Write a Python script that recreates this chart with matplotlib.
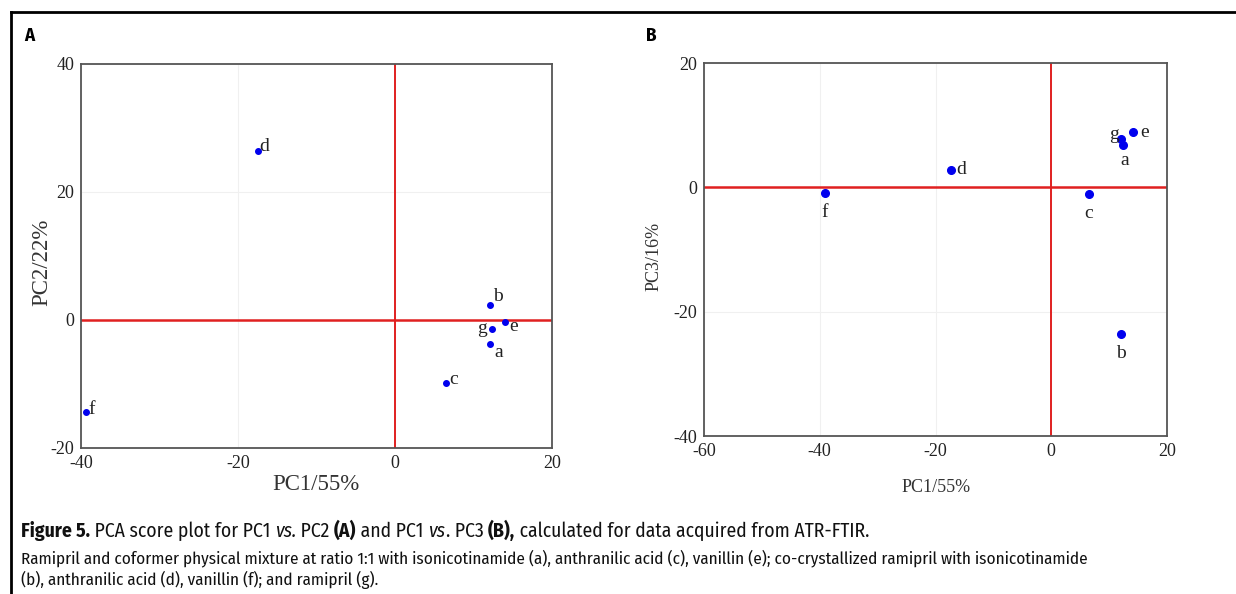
import matplotlib
matplotlib.use("Agg")
import matplotlib.pyplot as plt
from matplotlib.lines import Line2D
from matplotlib import font_manager

plt.rcParams["axes.unicode_minus"] = False

# ---- data ----
labels = ["a", "b", "c", "d", "e", "f", "g"]
pc1 = [12.1, 12.1, 6.5, -17.5, 14.0, -39.4, 12.4]
pc2 = [-3.7, 2.3, -9.8, 26.4, -0.3, -14.4, -1.4]
pc1_b = [12.4, 12.0, 6.5, -17.3, 14.1, -39.1, 12.0]
pc3 = [6.8, -23.6, -1.1, 2.8, 8.9, -0.9, 7.8]

xticks_a = [-40, -20, 0, 20]
yticks_a = [-20, 0, 20, 40]
xticks_b = [-60, -40, -20, 0, 20]
yticks_b = [-40, -20, 0, 20]

W, H = 1236, 594
fig = plt.figure(figsize=(W / 100, H / 100), dpi=100)

entries = {}
for f in font_manager.fontManager.ttflist:
    w = f.weight if isinstance(f.weight, int) else 400
    entries.setdefault(f.name, set()).add((w, f.style))


def usable(name):
    e = entries.get(name, set())
    reg = any(w == 400 and s == "normal" for w, s in e)
    bold = any(w >= 600 and s == "normal" for w, s in e)
    return reg and bold


def pick(cands, fallback):
    for c in cands:
        if usable(c):
            return [c, fallback]
    return [fallback]


SERIF = pick(["Liberation Serif"], "DejaVu Serif")
CAP = pick(["Source Sans Pro", "Fira Sans Condensed", "IBM Plex Sans Condensed",
            "Asap Condensed", "PT Sans Narrow", "Lato"], "DejaVu Sans")


def ax_rect(x0, y0, x1, y1):
    return [x0 / W, 1 - y1 / H, (x1 - x0) / W, (y1 - y0) / H]


def style(ax, xt, yt):
    for s in ax.spines.values():
        s.set_color("#555555")
        s.set_linewidth(1.3)
    ax.set_xticks(xt)
    ax.set_yticks(yt)
    ax.set_xlim(xt[0], xt[-1])
    ax.set_ylim(yt[0], yt[-1])
    ax.tick_params(length=0, pad=5, labelsize=13, labelcolor="#222222")
    for lab in ax.get_xticklabels() + ax.get_yticklabels():
        lab.set_fontfamily(SERIF)
    ax.grid(True, color="#f0f0f0", linewidth=0.8)
    ax.set_axisbelow(True)
    ax.axhline(0, color="#e02020", linewidth=1.8, zorder=2)
    ax.axvline(0, color="#e02020", linewidth=1.4, zorder=2)


def px_to_axes(ax_box, x_px, y_px):
    x0, y0, x1, y1 = ax_box
    return (x_px - x0) / (x1 - x0), (y1 - y_px) / (y1 - y0)


# ---- panel A ----
boxA = (81, 64, 552, 448)
axA = fig.add_axes(ax_rect(*boxA))
style(axA, xticks_a, yticks_a)
axA.plot(pc1, pc2, "o", color="#0000ee", markersize=4, zorder=3)
offA = {"a": (3, -6, "left"), "b": (2, 6, "left"), "c": (2, 2, "left"),
        "d": (1, 3, "left"), "e": (3, -3, "left"), "f": (2, 2, "left"),
        "g": (-4, 0, "right")}
for lb, x, y in zip(labels, pc1, pc2):
    dx, dy, ha = offA[lb]
    axA.annotate(lb, (x, y), xytext=(dx, dy), textcoords="offset points",
                 ha=ha, va="center", fontsize=14, family=SERIF, color="#222222")
axA.set_xlabel("PC1/55%", fontsize=16.5, family=SERIF, color="#333333")
axA.set_ylabel("PC2/22%", fontsize=16.5, family=SERIF, color="#333333")
axA.xaxis.set_label_coords(*px_to_axes(boxA, 316, 485))
axA.yaxis.set_label_coords(*px_to_axes(boxA, 42, 262))
axA.xaxis.label.set_va("center")
axA.yaxis.label.set_va("center")

# ---- panel B ----
boxB = (704, 63, 1167, 436)
axB = fig.add_axes(ax_rect(*boxB))
style(axB, xticks_b, yticks_b)
axB.plot(pc1_b, pc3, "o", color="#0000ee", markersize=5.5, zorder=3)
offB = {"a": (1, -11, "center"), "b": (0, -14, "center"), "c": (0, -14, "center"),
        "d": (4, 0, "left"), "e": (5, 0, "left"), "f": (0, -14, "center"),
        "g": (-1, 3, "right")}
for lb, x, y in zip(labels, pc1_b, pc3):
    dx, dy, ha = offB[lb]
    axB.annotate(lb, (x, y), xytext=(dx, dy), textcoords="offset points",
                 ha=ha, va="center", fontsize=14, family=SERIF, color="#222222")
axB.set_xlabel("PC1/55%", fontsize=13, family=SERIF, color="#333333")
axB.set_ylabel("PC3/16%", fontsize=13, family=SERIF, color="#333333")
axB.xaxis.set_label_coords(*px_to_axes(boxB, 936, 488))
axB.yaxis.set_label_coords(*px_to_axes(boxB, 654, 256))
axB.xaxis.label.set_va("center")
axB.yaxis.label.set_va("center")

# ---- panel letters ----
fig.text(24 / W, 1 - 36 / H, "A", fontsize=13.5, fontweight="bold", family=CAP, va="center")
fig.text(646 / W, 1 - 36 / H, "B", fontsize=13.5, fontweight="bold", family=CAP, va="center")

# ---- frame ----
fig.add_artist(Line2D([11 / W, 11 / W], [0, 1 - 12 / H], color="black", linewidth=2,
                      transform=fig.transFigure))
fig.add_artist(Line2D([11 / W, 1], [1 - 12 / H, 1 - 12 / H], color="black", linewidth=2,
                      transform=fig.transFigure))

# ---- caption ----
renderer = fig.canvas.get_renderer()


def rich(x_px, y_px, pieces, size, target=None, max_size=None):
    texts = []
    x = x_px
    for txt, kw in pieces:
        t = fig.text(x / W, 1 - y_px / H, txt, fontsize=size, family=CAP,
                     va="baseline", color="#111111", **kw)
        x += t.get_window_extent(renderer=renderer).width
        texts.append(t)
    if target is not None:
        new = size * (target - x_px) / (x - x_px)
        if max_size is not None:
            new = min(new, max_size)
        x = x_px
        for t in texts:
            t.set_fontsize(new)
            t.set_x(x / W)
            x += t.get_window_extent(renderer=renderer).width
        return new
    return size


cap = [("Figure 5.", {"fontweight": "bold"}),
       (" PCA score plot for PC1 ", {}),
       ("vs.", {"style": "italic"}),
       (" PC2 ", {}),
       ("(A)", {"fontweight": "bold"}),
       (" and PC1 ", {}),
       ("vs", {"style": "italic"}),
       (". PC3 ", {}),
       ("(B),", {"fontweight": "bold"}),
       (" calculated for data acquired from ATR-FTIR.", {})]
rich(21, 537, cap, 11, target=868)
s2 = rich(21, 563, [("Ramipril and coformer physical mixture at ratio 1:1 with isonicotinamide (a), "
                     "anthranilic acid (c), vanillin (e); co-crystallized ramipril with isonicotinamide", {})],
          10, target=1222, max_size=12.3)
rich(21, 585, [("(b), anthranilic acid (d), vanillin (f); and ramipril (g).", {})], s2)

fig.savefig("out.png", dpi=100)
